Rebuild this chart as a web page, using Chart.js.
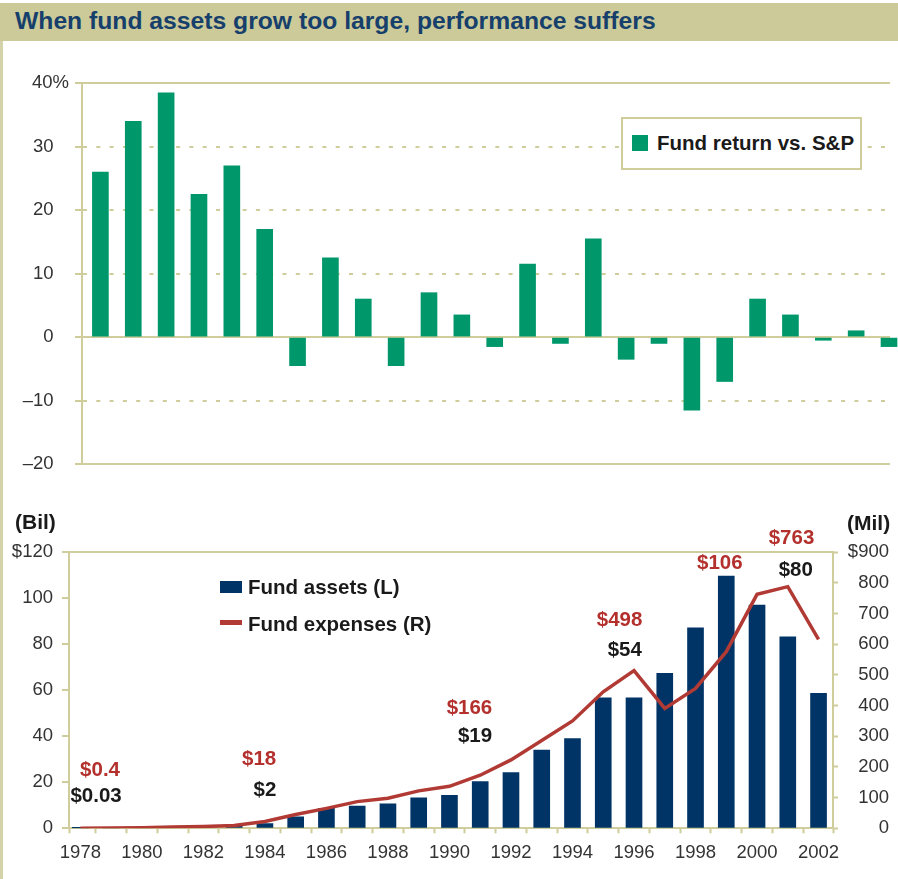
<!DOCTYPE html>
<html>
<head>
<meta charset="utf-8">
<script src="https://cdn.jsdelivr.net/npm/chart.js@4/dist/chart.umd.min.js"></script>
<style>
  body { margin: 0; background: #fff; }
  #wrap { position: relative; width: 898px; height: 879px; overflow: hidden; background: #fff; }
  #titlebar { position: absolute; left: 0; top: 3px; width: 898px; height: 38px; background: #cbca98; }
  #title { position: absolute; left: 15px; top: 6px; font: bold 24.7px/24.7px "Liberation Sans", Arial, sans-serif; color: #173f6c; white-space: nowrap; }
  #leftrule { position: absolute; left: 0; top: 41px; width: 3px; height: 838px; background: #d3d2a8; }
  canvas { position: absolute; left: 0; }
  #c1 { top: 41px; }
  #c2 { top: 490px; }
  .txt { position: absolute; white-space: nowrap; font: bold 20.5px/20.5px "Liberation Sans", Arial, sans-serif; color: #1a1a1a; }
  #legTop { position: absolute; left: 621px; top: 117px; width: 237px; height: 49px; border: 2px solid #cfcd9b; background: #fff; }
  .sw { position: absolute; }
</style>
</head>
<body>
<div id="wrap">
  <div id="titlebar"><div id="title">When fund assets grow too large, performance suffers</div></div>
  <div id="leftrule"></div>
  <canvas id="c1" width="898" height="449"></canvas>
  <canvas id="c2" width="898" height="389"></canvas>
  <div id="legTop"></div>
  <div class="sw" id="swTop" style="left:632px;top:135px;width:16px;height:16px;"></div>
  <div class="txt" style="left:657px;top:133px;">Fund return vs. S&amp;P</div>
  <div class="txt" style="left:15px;top:512px;font-size:21px;">(Bil)</div>
  <div class="txt" style="left:847px;top:513px;font-size:21px;">(Mil)</div>
  <div class="sw" id="swAssets" style="left:220px;top:581px;width:22px;height:12px;"></div>
  <div class="txt" style="left:248px;top:577px;">Fund assets (L)</div>
  <div class="sw" id="swExp" style="left:220px;top:620px;width:22px;height:5px;"></div>
  <div class="txt" style="left:248px;top:614px;">Fund expenses (R)</div>
</div>
<script>
// ---------- data ----------
const years = [1978,1979,1980,1981,1982,1983,1984,1985,1986,1987,1988,1989,1990,
               1991,1992,1993,1994,1995,1996,1997,1998,1999,2000,2001,2002];
const returnVsSP = [26,34,38.5,22.5,27,17,-4.5,12.5,6,-4.5,7,3.5,-1.5,
                    11.5,-1,15.5,-3.5,-1,-11.5,-7,6,3.5,-0.5,1,-1.5];
const assetsBil = [0.03,0.1,0.2,0.4,0.7,1.2,2,5,8.7,9.7,10.6,13.3,14.3,
                   20.3,24.2,34,39,56.7,56.7,67.4,87.2,109.7,97,83.3,58.7];
const expensesMil = [0.4,1,2,4,6,9,22,45,65,87,98,122,137,
                     173,223,286,350,445,514,391,456,576,763,788,616];
const returnTicks = [-20,-10,0,10,20,30,40];
const assetTicks = [0,20,40,60,80,100,120];
const expenseTicks = [0,100,200,300,400,500,600,700,800,900];
const yearLabels = [1978,1980,1982,1984,1986,1988,1990,1992,1994,1996,1998,2000,2002];
// value callouts (x in years, y in $ billions on the left axis)
const noteTexts  = ['$0.4','$0.03','$18','$2','$166','$19','$498','$54','$106','$763','$80'];
const noteYears  = [1978.64,1978.51,1983.81,1984.0,1990.65,1990.83,1995.53,1995.7,1998.79,2001.12,2001.26];
const noteValues = [25.3,13.8,29.9,16.7,52.3,39.9,90.6,77.5,115.1,126,112.3];
const noteKinds  = ['exp','ast','exp','ast','exp','ast','exp','ast','exp','exp','ast'];

// ---------- styles ----------
const KHAKI = '#cfcd9b';
const GREEN = '#00986a';
const NAVY = '#013466';
const RED = '#b23a35';
const RED_TXT = '#b3302d';
const TICK_TXT = '#333333';
const TICKF = '"Liberation Sans", Arial, sans-serif';
const TICKSIZE = 18.5;
const BOLDF = '"Liberation Sans", Arial, sans-serif';

document.getElementById('swTop').style.background = GREEN;
document.getElementById('swAssets').style.background = NAVY;
document.getElementById('swExp').style.background = RED;

const dash = v => (v === 0 || v === 40 || v === -20) ? [] : [4, 9.3];
const fmtNum = v => v < 0 ? '\u2013' + Math.abs(v) : String(v);

// ---------- top chart ----------
new Chart(document.getElementById('c1'), {
  type: 'bar',
  data: {
    datasets: [{
      label: 'Fund return vs. S&P',
      data: years.map((y, i) => ({ x: y, y: returnVsSP[i] })),
      backgroundColor: GREEN,
      borderWidth: 0,
      barThickness: 16,
      clip: false
    }]
  },
  options: {
    responsive: false,
    animation: false,
    events: [],
    layout: { padding: { top: 42.3, bottom: 26, left: 0, right: 8 } },
    plugins: { legend: { display: false }, tooltip: { enabled: false } },
    scales: {
      x: { type: 'linear', min: 1977.44, max: 2002.03, offset: false, display: false },
      y: {
        min: -20, max: 40,
        afterBuildTicks: s => { s.ticks = returnTicks.map(v => ({ value: v })); },
        afterFit: s => { s.width = 82; },
        ticks: {
          padding: 6,
          color: TICK_TXT,
          font: { family: TICKF, size: TICKSIZE },
          callback: v => v === 40 ? '40%' : fmtNum(v) + '   '
        },
        grid: {
          color: KHAKI, lineWidth: 2, tickLength: 7, tickColor: KHAKI, tickWidth: 2
        },
        border: {
          display: true, color: KHAKI, width: 2,
          dash: ctx => ctx.tick ? dash(ctx.tick.value) : []
        }
      }
    }
  }
});

// ---------- bottom chart ----------
const notePlugin = {
  id: 'notes',
  afterDatasetsDraw(chart) {
    const { ctx } = chart;
    const xs = chart.scales.x, ys = chart.scales.y;
    ctx.save();
    ctx.font = 'bold 20.5px ' + BOLDF;
    ctx.textAlign = 'center';
    ctx.textBaseline = 'middle';
    noteTexts.forEach((t, i) => {
      ctx.fillStyle = noteKinds[i] === 'exp' ? RED_TXT : '#1a1a1a';
      ctx.fillText(t, xs.getPixelForValue(noteYears[i]), ys.getPixelForValue(noteValues[i]));
    });
    ctx.restore();
  }
};

new Chart(document.getElementById('c2'), {
  type: 'bar',
  data: {
    datasets: [
      {
        type: 'line',
        label: 'Fund expenses (R)',
        data: years.map((y, i) => ({ x: y, y: expensesMil[i] })),
        yAxisID: 'y1',
        borderColor: RED,
        borderWidth: 3.5,
        pointRadius: 0,
        tension: 0,
        order: 0
      },
      {
        label: 'Fund assets (L)',
        data: years.map((y, i) => ({ x: y, y: assetsBil[i] })),
        yAxisID: 'y',
        backgroundColor: NAVY,
        borderWidth: 0,
        barThickness: 16,
        order: 1
      }
    ]
  },
  options: {
    responsive: false,
    animation: false,
    events: [],
    layout: { padding: { top: 62.3, bottom: 0, left: 0, right: 9 } },
    plugins: { legend: { display: false }, tooltip: { enabled: false } },
    scales: {
      x: {
        type: 'linear', min: 1977.63, max: 2002.47, offset: false,
        afterBuildTicks: s => {
          const t = [s.min, s.max];
          years.forEach(y => { if (y + 0.5 < s.max) t.push(y + 0.5); });
          yearLabels.forEach(y => t.push(y));
          t.sort((a, b) => a - b);
          s.ticks = t.map(v => ({ value: v }));
        },
        afterFit: s => { s.height = 50.7; },
        ticks: {
          autoSkip: false, maxRotation: 0, minRotation: 0,
          padding: 9,
          color: TICK_TXT,
          font: { family: TICKF, size: TICKSIZE },
          callback: v => yearLabels.includes(v) ? String(v) : ''
        },
        grid: {
          offset: false,
          drawOnChartArea: false, tickLength: 5, tickWidth: 2,
          tickColor: ctx => (ctx.tick && yearLabels.includes(ctx.tick.value)) ? 'rgba(0,0,0,0)' : KHAKI
        },
        border: { display: true, color: KHAKI, width: 2 }
      },
      y: {
        position: 'left', min: 0, max: 120,
        afterBuildTicks: s => { s.ticks = assetTicks.map(v => ({ value: v })); },
        afterFit: s => { s.width = 69; },
        ticks: {
          padding: 9,
          color: TICK_TXT,
          font: { family: TICKF, size: TICKSIZE },
          callback: v => v === 120 ? '$120' : String(v)
        },
        grid: {
          lineWidth: 2, tickLength: 7, tickWidth: 2, tickColor: KHAKI,
          color: ctx => (ctx.tick && ctx.tick.value === 120) ? KHAKI : 'rgba(0,0,0,0)'
        },
        border: { display: true, color: KHAKI, width: 2 }
      },
      y1: {
        position: 'right', min: 0, max: 900,
        afterBuildTicks: s => { s.ticks = expenseTicks.map(v => ({ value: v })); },
        afterFit: s => { s.width = 56; },
        ticks: {
          crossAlign: 'far',
          padding: 6,
          color: TICK_TXT,
          font: { family: TICKF, size: TICKSIZE },
          callback: v => v === 900 ? '$900' : String(v)
        },
        grid: { drawOnChartArea: false, tickLength: 5, tickWidth: 2, tickColor: KHAKI },
        border: { display: true, color: KHAKI, width: 2 }
      }
    }
  },
  plugins: [notePlugin]
});
</script>
</body>
</html>
